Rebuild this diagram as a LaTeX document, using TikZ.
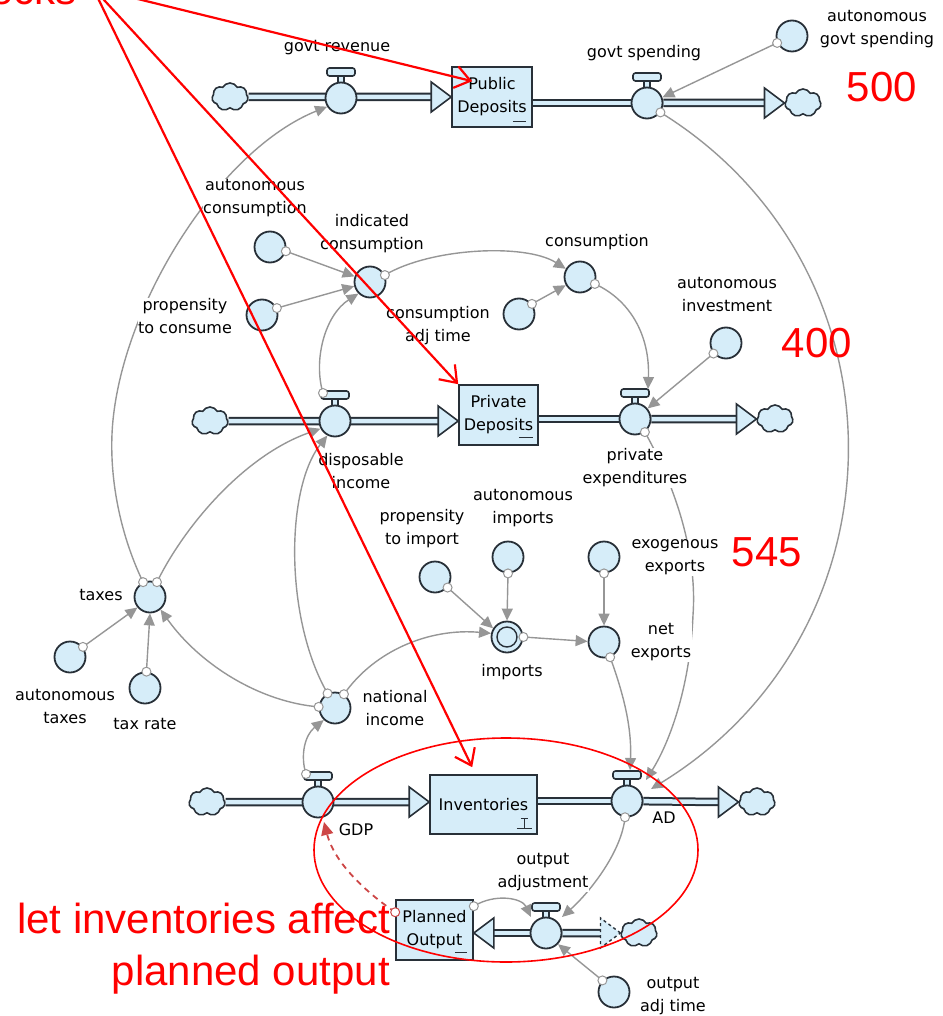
\documentclass[tikz,border=0pt]{standalone}
\usepackage{fontspec}
\setmainfont{DejaVu Sans}
\newfontfamily\redf{Liberation Sans}
\usetikzlibrary{arrows.meta,shapes.symbols,calc,backgrounds}
\definecolor{lb}{RGB}{214,237,249}
\definecolor{dk}{RGB}{40,48,56}
\definecolor{gr}{RGB}{150,150,150}
\definecolor{rd}{RGB}{255,0,0}
\definecolor{rdd}{RGB}{205,70,70}
\newcommand\lblfont{\fontsize{16}{23}\selectfont}
\tikzset{
 aux/.style={circle,draw=dk,fill=lb,line width=1.8pt,minimum size=31pt,inner sep=0pt},
 valvec/.style={aux},
 stock/.style={rectangle,draw=dk,fill=lb,line width=1.6pt,inner sep=0pt,align=center,font=\lblfont,text=black},
 cloudn/.style={cloud,cloud puffs=7,cloud puff arc=120,aspect=1.3,draw=dk,fill=lb,line width=1.6pt,minimum width=36pt,minimum height=28pt,inner sep=0pt},
 lbl/.style={align=center,font=\lblfont,inner sep=0.5pt,fill=white,text=black},
 link/.style={draw=gr,line width=1.4pt,-{Triangle[length=12pt,width=11pt]}},
 dot/.style={circle,draw=gr,fill=white,line width=1pt,minimum size=9pt,inner sep=0pt},
 redtxt/.style={text=rd,font=\redf\fontsize{42}{52}\selectfont,inner sep=0pt},
 redarrow/.style={draw=rd,line width=2.2pt,-{Straight Barb[length=15pt,width=22pt,line width=2.2pt]}},
 pipeo/.style={draw=dk,line width=8.5pt},
 pipei/.style={draw=lb,line width=4.5pt},
}
\newcommand\mkvalve[3]{%
  \draw[dk,fill=lb,line width=1.4pt] (#2-3,#3-23) rectangle (#2+3,#3-15);
  \draw[dk,fill=lb,line width=1.6pt,rounded corners=2.5pt] (#2-14,#3-30) rectangle (#2+14,#3-22);
  \node[valvec] (#1) at (#2,#3) {};}
\newcommand\mypipe[2]{\begin{pgfonlayer}{background}\draw[pipeo] (#1) -- (#2);\draw[pipei] (#1) -- (#2);\end{pgfonlayer}}
\newcommand\myflow[3]{%
  \mypipe{#1}{$(#2)+(-19*#3,0)$}
  \draw[dk,fill=lb,line width=1.6pt,line join=miter] (#2) -- ++(-20*#3,-15) -- ++(0,30) -- cycle;}
\newcommand\mylink[2]{\draw[link] (#1) #2; \node[dot] at (#1) {};}
\begin{document}
\begin{tikzpicture}[x=1pt,y=-1pt]
\useasboundingbox (0,0) rectangle (942,1016);

% ---------- row 1 : public deposits ----------
\node[cloudn] (cA) at (230,97) {};
\mkvalve{gr}{341}{98}
\node[stock,minimum width=80pt,minimum height=60pt] (pd) at (492,97) {Public\\Deposits};
\mkvalve{gs}{647}{103}
\node[cloudn] (cB) at (803,103) {};
\node[aux] (ags) at (792,36) {};
\myflow{cA}{pd.west}{1}
\coordinate (pdout) at (pd.east |- gs);
\mypipe{pdout}{gs}
\myflow{gs}{cB.west}{1}
\draw[dk,line width=1.3pt] ($(pd.south east)+(-20,-6)$) -- ++(13,0);

% ---------- row 2 : private deposits ----------
\node[cloudn] (cC) at (210,421) {};
\mkvalve{di}{335}{421}
\node[stock,minimum width=79pt,minimum height=60pt] (pvd) at (498.5,415) {Private\\Deposits};
\mkvalve{pe}{635}{419}
\node[cloudn] (cD) at (775,419) {};
\coordinate (pvdin) at (pvd.west |- di);
\coordinate (pvdout) at (pvd.east |- pe);
\myflow{cC}{pvdin}{1}
\mypipe{pvdout}{pe}
\myflow{pe}{cD.west}{1}
\draw[dk,line width=1.3pt] ($(pvd.south east)+(-20,-8)$) -- ++(14,0);

% ---------- row 4 : inventories ----------
\node[cloudn] (cE) at (207,802) {};
\mkvalve{gdp}{318}{802}
\node[stock,minimum width=107pt,minimum height=59pt] (inv) at (483.5,804.5) {Inventories};
\mkvalve{ad}{627}{801}
\node[cloudn] (cF) at (757,802) {};
\coordinate (invin) at (inv.west |- gdp);
\coordinate (invout) at (inv.east |- ad);
\myflow{cE}{invin}{1}
\mypipe{invout}{ad}
\myflow{ad}{cF.west}{1}
\draw[dk,line width=1.3pt] ($(inv.south east)+(-21,-6)$) -- ++(15,0)
  ($(inv.south east)+(-13.5,-6)$) -- ++(0,-10)
  ($(inv.south east)+(-17,-16)$) -- ++(7,0);

% ---------- row 5 : planned output ----------
\node[stock,minimum width=77pt,minimum height=60pt] (po) at (434.5,930) {Planned\\Output};
\mkvalve{oa}{546}{933}
\node[cloudn] (cG) at (639,933) {};
\coordinate (poin) at (po.east |- oa);
\myflow{oa}{poin}{-1}
\mypipe{oa}{$(cG.west)+(-19,0)$}
\draw[dk,fill=lb,dashed,line width=1.4pt] (cG.west) -- ++(-20,-15) -- ++(0,30) -- cycle;
\draw[dk,line width=1.3pt] ($(po.south east)+(-19,-8)$) -- ++(12,0);

% ---------- auxiliaries ----------
\node[aux] (ac) at (270,247) {};
\node[aux] (ptc) at (262,315) {};
\node[aux] (ic) at (370,282) {};
\node[aux] (cat) at (519,314) {};
\node[aux] (cons) at (580,277) {};
\node[aux] (ai) at (726,343) {};
\node[aux] (tx) at (150,597) {};
\node[aux] (atx) at (70,657) {};
\node[aux] (tr) at (145,688) {};
\node[aux] (ni) at (335,708) {};
\node[aux] (pti) at (435,577) {};
\node[aux] (ami) at (508,557) {};
\node[aux] (imp) at (507,637) {};
\draw[dk,line width=1.4pt] (imp) circle (10);
\node[aux] (exx) at (604,557) {};
\node[aux] (nx) at (604,642) {};
\node[aux] (oat) at (614,992) {};

% ---------- links ----------
\mylink{ags.-155}{-- (gs.20)}
\mylink{gs.-35}{.. controls (912,268) and (910,630) .. ($(ad)+(24,-12)$)}
\mylink{ac.-15}{-- (ic.160)}
\mylink{ptc.25}{-- (ic.-165)}
\mylink{ic.25}{.. controls (430,248) and (525,243) .. (cons.150)}
\mylink{cat.38}{-- (cons.-150)}
\mylink{cons.-25}{.. controls (630,300) and (650,335) .. ($(pe)+(13,-30)$)}
\mylink{ai.-140}{-- (pe.40)}
\mylink{$(di)+(-12,-28)$}{.. controls (313,360) and (325,315) .. (ic.-135)}
\mylink{tx.115}{.. controls (118,530) and (108,470) .. (113,420) .. controls (125,300) and (220,150) .. (gr.-148)}
\mylink{tx.65}{.. controls (185,525) and (245,455) .. (di.-152)}
\mylink{ni.117}{.. controls (285,620) and (285,490) .. (di.-118)}
\mylink{ni.176}{.. controls (260,702) and (200,665) .. (tx.-50)}
\mylink{ni.57}{.. controls (375,650) and (430,628) .. (imp.167)}
\mylink{atx.38}{-- (tx.-140)}
\mylink{tr.85}{-- (tx.-90)}
\mylink{$(gdp)+(-12,-28)$}{.. controls (300,755) and (305,735) .. (ni.-133)}
\mylink{pti.-40}{-- (imp.148)}
\mylink{ami.-90}{-- (imp.90)}
\mylink{imp.0}{-- (nx.178)}
\mylink{exx.-90}{-- (nx.90)}
\mylink{nx.-68}{.. controls (622,690) and (632,725) .. ($(ad)+(3,-31)$)}
\mylink{pe.-53}{.. controls (680,495) and (697,560) .. (693,615) .. controls (690,690) and (668,745) .. ($(ad)+(19,-21)$)}
\mylink{ad.-97}{.. controls (622,850) and (592,890) .. ($(oa)+(16,-16)$)}
\mylink{$(po.north east)+(0,7)$}{.. controls (495,893) and (522,898) .. ($(oa)+(-15,-16)$)}
\mylink{oat.135}{-- (oa.-43)}

% ---------- labels ----------
\node[lbl] (l1) at (337,48) {govt revenue};
\node[lbl] (l2) at (644,53) {govt spending};
\node[lbl] (l3) at (877,29) {autonomous\\govt spending};
\node[lbl] (l4) at (255,198) {autonomous\\consumption};
\node[lbl] (l5) at (372,233.5) {indicated\\consumption};
\node[lbl] (l6) at (185,316) {propensity\\to consume};
\node[lbl] (l7) at (438,325.5) {consumption\\adj time};
\node[lbl] (l8) at (597,242) {consumption};
\node[lbl] (l9) at (727,294.5) {autonomous\\investment};
\node[lbl] (l10) at (361,471) {disposable\\income};
\node[lbl] (l11) at (635,468) {private\\expenditures};
\node[lbl] (l12) at (422,528.5) {propensity\\to import};
\node[lbl] (l13) at (523,508.5) {autonomous\\imports};
\node[lbl] (l14) at (675,557.5) {exogenous\\exports};
\node[lbl] (l15) at (661,642.5) {net\\exports};
\node[lbl] (l16) at (512,672) {imports};
\node[lbl] (l17) at (101,595) {taxes};
\node[lbl] (l18) at (65,706) {autonomous\\taxes};
\node[lbl] (l19) at (145,724) {tax rate};
\node[lbl] (l20) at (395,708.5) {national\\income};
\node[lbl] (l21) at (356,830) {GDP};
\node[lbl] (l22) at (664,818) {AD};
\node[lbl] (l23) at (543,872.5) {output\\adjustment};
\node[lbl] (l24) at (673,996.5) {output\\adj time};

% ---------- red annotations ----------
\draw[rdd,dash pattern=on 6pt off 5pt,line width=1.8pt,-{Triangle[length=13pt,width=12pt]}]
  ($(po.north west)+(0,13)$) .. controls (370,895) and (335,865) .. ($(gdp)+(6,20)$);
\node[dot,draw=rdd] (pdot) at ($(po.north west)+(0,13)$) {};
\node[redtxt,anchor=base east] (stk) at (77,5) {stocks};
\coordinate (src) at (93,-12);
\draw[redarrow] (src) -- ($(pd.north west)+(21,15)$);
\draw[redarrow] (src) -- (pvd.north west);
\draw[redarrow] (src) -- ($(inv.north west)+(43,-7)$);
\draw[rd,line width=1.6pt] (506,850) ellipse (192 and 112);
\node[redtxt] (n500) at (882,87) {500};
\node[redtxt] (n400) at (817,343) {400};
\node[redtxt] (n545) at (767,552) {545};
\node[redtxt,anchor=base east] (ann1) at (390,933) {let inventories affect};
\node[redtxt,anchor=base east] (ann2) at (390,985) {planned output};
\end{tikzpicture}
\end{document}
